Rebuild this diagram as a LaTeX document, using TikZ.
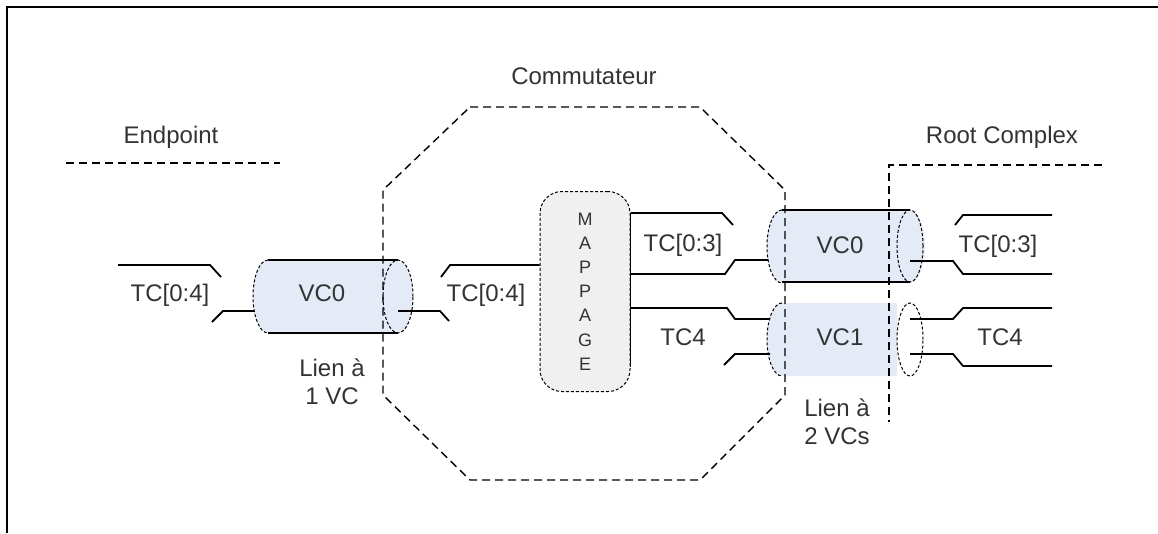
\documentclass[tikz,border=0pt]{standalone}
\usepackage{fontspec}
\setmainfont{Liberation Sans}
\definecolor{vcbleu}{HTML}{E4EBF6}
\definecolor{mapgris}{HTML}{F0F0F0}
\begin{document}
\begin{tikzpicture}[
	x=1pt, y=-1pt,
	every node/.style = {font=\fontsize{24}{28}\selectfont, text=black!80, align=center},
	pointille/.style = {dashed, dash pattern=on 8pt off 5pt, line width=1.4pt},
	capot/.style = {dashed, dash pattern=on 3pt off 2pt, line width=1pt},
	fil/.style = {line width=1.8pt},
	bout/.style = {x radius=15pt, y radius=36.5pt}
]
	\useasboundingbox (0,0) rectangle (1158,533);
	\draw[line width=2.4pt] (7,533) -- (7,7) -- (1158,7);

	\node (endpoint) at (171,137) {Endpoint};
	\node (commutateur) at (584,76) {Commutateur};
	\node (rootcomplex) at (1002,137) {Root Complex};

	\fill[vcbleu] (268,260) -- (398,260) arc[start angle=90, end angle=-90, bout]
		-- (268,333) arc[start angle=270, end angle=90, bout] -- cycle;
	\fill[vcbleu] (782,210) -- (910,210) arc[start angle=90, end angle=-90, bout]
		-- (782,282) arc[start angle=270, end angle=90, bout] -- cycle;
	\fill[vcbleu] (782,303) -- (897,303) -- (897,376) -- (782,376)
		arc[start angle=270, end angle=90, bout] -- cycle;

	\node[draw, capot, fill=mapgris, rounded corners=22pt, minimum width=90pt,
		minimum height=200pt, font=\fontsize{18}{24.2}\selectfont]
		(mappage) at (585,291.5) {M\\A\\P\\P\\A\\G\\E};

	\draw[pointille] (66,163) -- (280,163);
	\draw[pointille] (470,107) -- (700,107) -- (785,190) -- (785,395) -- (700,480)
		-- (470,480) -- (383,395) -- (383,190) -- cycle;
	\draw[pointille] (1102,165) -- (889,165) -- (889,422);

	\draw[fil] (268,260) -- (398,260) (268,333) -- (398,333);
	\draw[capot] (268,260) arc[start angle=90, end angle=270, bout];
	\draw[capot] (398,296.5) ellipse [bout];
	\draw[fil] (782,210) -- (910,210) (782,282) -- (910,282);
	\draw[capot] (782,210) arc[start angle=90, end angle=270, bout];
	\draw[capot] (910,246) ellipse [x radius=13pt, y radius=36pt];
	\draw[capot] (782,303) arc[start angle=90, end angle=270, bout];
	\draw[capot] (910,339.5) ellipse [x radius=13pt, y radius=36.5pt];

	\node (vcg) at (322,293) {VC0};
	\node (vcz) at (840,245) {VC0};
	\node (vcu) at (840,337) {VC1};

	\draw[fil] (118,265) -- (210,265) -- (221,277);
	\draw[fil] (212,322) -- (223,311) -- (254,311);
	\node (tcg) at (170,295) {TC[0:4]};

	\draw[fil] (398,311) -- (440,311) -- (449,321);
	\draw[fil] (441,277) -- (450,265) -- (mappage.west |- 0,265);
	\node (tcm) at (486,295) {TC[0:4]};

	\draw[fil] (mappage.east |- 0,213) -- (mappage.east |- 0,367);
	\draw[fil] (mappage.east |- 0,213) -- (722,213) -- (733,225);
	\draw[fil] (mappage.east |- 0,274) -- (725,274) -- (735,260) -- (768,260);
	\draw[fil] (mappage.east |- 0,308) -- (727,308) -- (735,319) -- (770,319);
	\draw[fil] (724,365) -- (735,354) -- (770,354);
	\node (tcq) at (683,245) {TC[0:3]};
	\node (tcc) at (683,337) {TC4};

	\draw[fil] (910,261) -- (953,261) -- (963,274) -- (1052,274);
	\draw[fil] (955,225) -- (963,215) -- (1052,215);
	\draw[fil] (910,319) -- (953,319) -- (963,308) -- (1052,308);
	\draw[fil] (910,354) -- (953,354) -- (963,366) -- (1052,366);
	\node (tcqr) at (998,246) {TC[0:3]};
	\node (tccr) at (1000,337) {TC4};

	\node (lienun) at (332,382) {Lien à\\1 VC};
	\node (liendeux) at (837,422) {Lien à\\2 VCs};
\end{tikzpicture}
\end{document}
